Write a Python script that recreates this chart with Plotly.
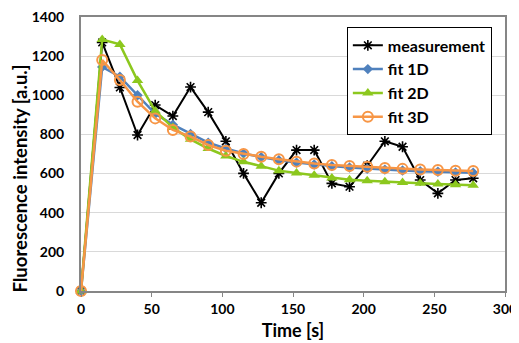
import plotly.graph_objects as go

time_s = [0, 15, 27.5, 40, 52.5, 65, 77.5, 90, 102.5, 115, 127.5, 140, 152.5,
          165, 177.5, 190, 202.5, 215, 227.5, 240, 252.5, 265, 277.5]
measurement = [0, 1270, 1040, 797, 950, 894, 1042, 914, 765, 601, 451, 601, 720,
               720, 550, 533, 640, 765, 737, 567, 499, 567, 576]
fit_1d = [0, 1145, 1095, 1000, 905, 850, 802, 758, 728, 703, 684, 668, 656,
          646, 638, 631, 625, 620, 616, 612, 609, 606, 604]
fit_2d = [0, 1285, 1260, 1075, 920, 835, 775, 728, 690, 660, 638, 615, 603,
          592, 578, 568, 563, 558, 554, 550, 547, 543, 540]
fit_3d = [0, 1180, 1078, 967, 882, 823, 789, 746, 717, 700, 686, 673, 661,
          652, 644, 639, 635, 628, 624, 621, 618, 615, 613]

x_ticks = [0, 50, 100, 150, 200, 250, 300]
y_ticks = [0, 200, 400, 600, 800, 1000, 1200, 1400]

FONT = "Lato"
GREEN = "#8CC81E"

fig = go.Figure()
fig.add_trace(go.Scatter(
    x=time_s, y=measurement, name="measurement", mode="lines+markers",
    line=dict(color="#000000", width=2),
    marker=dict(symbol="asterisk-open", size=9, color="#000000",
                line=dict(color="#000000", width=1.6)),
    cliponaxis=False))
fig.add_trace(go.Scatter(
    x=time_s, y=fit_1d, name="fit 1D", mode="lines+markers",
    line=dict(color="#4F81BD", width=2.5),
    marker=dict(symbol="diamond", size=8, color="#4F81BD"),
    cliponaxis=False))
fig.add_trace(go.Scatter(
    x=time_s, y=fit_2d, name="fit 2D", mode="lines+markers",
    line=dict(color=GREEN, width=2.5),
    marker=dict(symbol="triangle-up", size=10, color=GREEN),
    cliponaxis=False))
fig.add_trace(go.Scatter(
    x=time_s, y=fit_3d, name="fit 3D", mode="lines+markers",
    line=dict(color="#F79646", width=2.5),
    marker=dict(symbol="circle-open", size=10, color="#F79646",
                line=dict(color="#F79646", width=2)),
    cliponaxis=False))

# page body has an 8px default margin, so the figure is sized to fit inside it
fig.update_layout(
    width=511, height=335,
    margin=dict(l=73, r=14, t=9, b=52),
    paper_bgcolor="white", plot_bgcolor="white",
    font=dict(family=FONT, size=14, color="#000000"),
    showlegend=True,
    legend=dict(x=0.627, y=0.962, xanchor="left", yanchor="top",
                bgcolor="white", bordercolor="#000000", borderwidth=1,
                font=dict(family=FONT, size=16, color="#000000", weight="bold"),
                tracegroupgap=0, itemwidth=30),
    annotations=[dict(
        text="Fluorescence intensity [a.u.]", textangle=-90,
        xref="paper", yref="paper", x=-0.144, y=0.41,
        xanchor="center", yanchor="middle", showarrow=False,
        font=dict(family=FONT, size=18.5, weight="bold", color="#000000"))],
)
fig.update_xaxes(
    range=[0, 300], tickvals=x_ticks, ticktext=[str(v) for v in x_ticks],
    automargin=False, ticklabeloverflow="allow",
    showgrid=False, zeroline=False,
    showline=True, mirror=True, linecolor="#868686", linewidth=2,
    ticks="outside", ticklen=4, tickcolor="#868686",
    tickfont=dict(family=FONT, size=14, weight="bold"),
    title=dict(text="Time [s]", font=dict(family=FONT, size=18, weight="bold"),
               standoff=9),
)
fig.update_yaxes(
    range=[0, 1400], tickvals=y_ticks, ticktext=[str(v) for v in y_ticks],
    automargin=False, ticklabeloverflow="allow",
    showgrid=True, gridcolor="#D9D9D9", gridwidth=1, zeroline=False,
    showline=True, mirror=True, linecolor="#868686", linewidth=2,
    ticks="", ticklabelstandoff=12,
    tickfont=dict(family=FONT, size=14, weight="bold"),
)

fig.write_html("out.html")
